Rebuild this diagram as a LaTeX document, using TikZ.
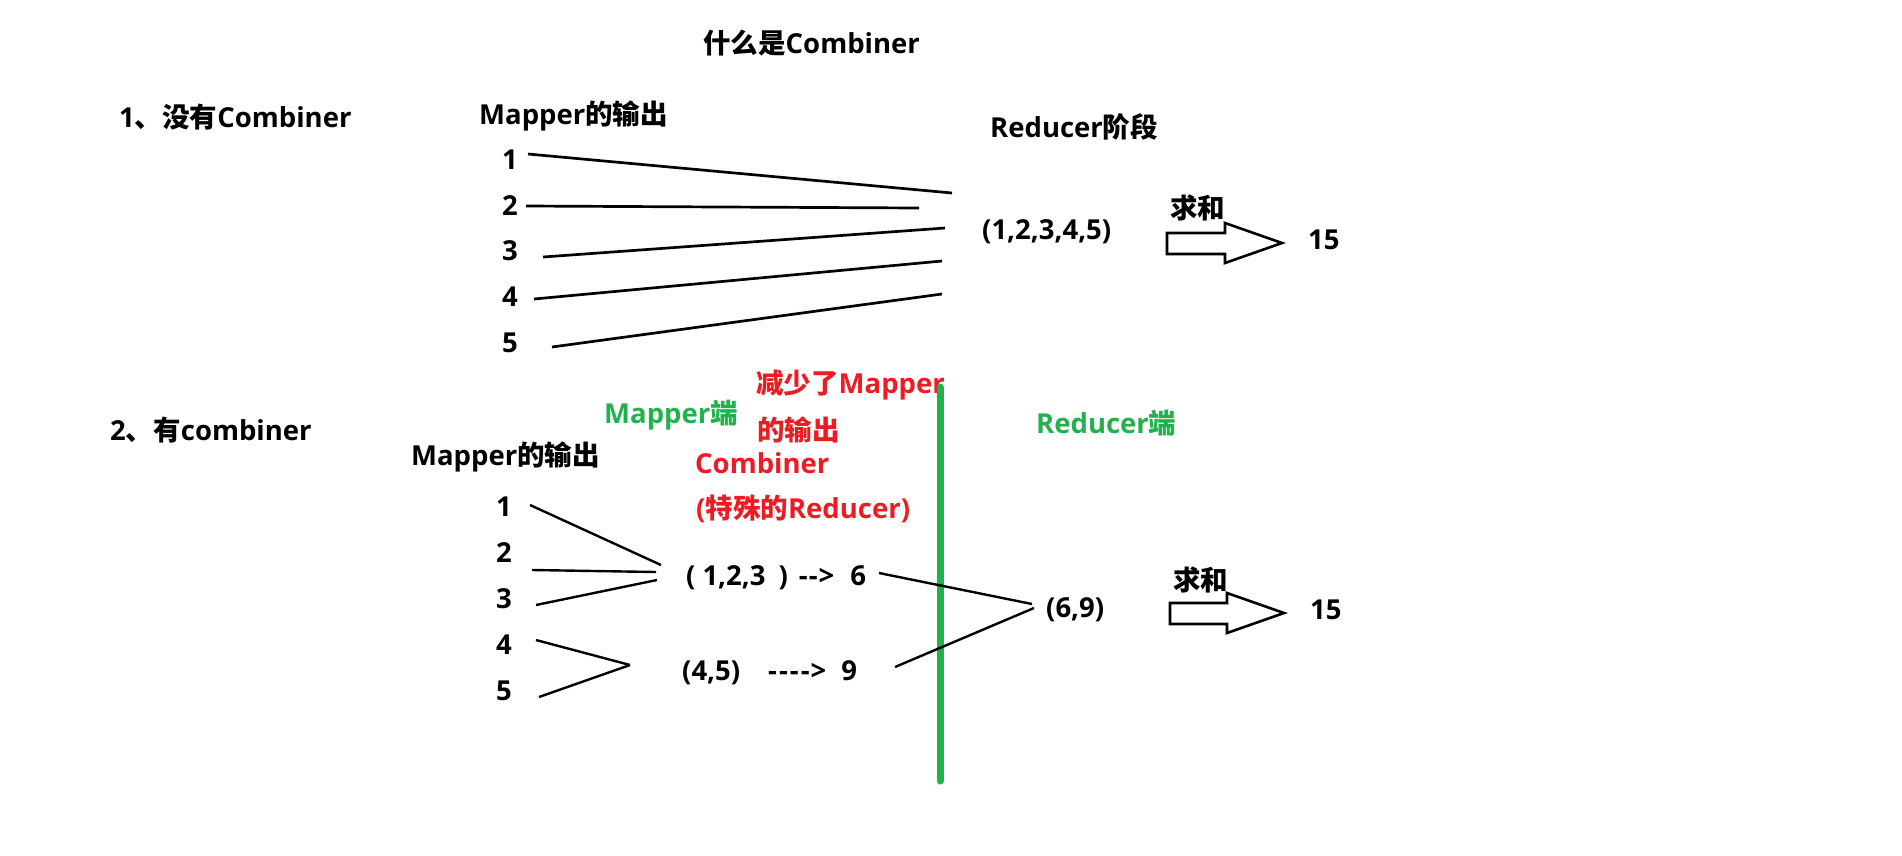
\documentclass[tikz,border=0pt]{standalone}
\usepackage{fontspec}
\setmainfont{Open Sans}
\newfontfamily\cjk{Noto Sans CJK SC}
\definecolor{pred}{RGB}{237,28,36}
\definecolor{pgreen}{RGB}{34,177,76}
\begin{document}
\begin{tikzpicture}[x=1pt,y=-1pt,
  txt/.style={anchor=west,inner sep=0pt,font=\bfseries\fontsize{27.5}{32}\selectfont},
  num/.style={anchor=center,inner sep=0pt,font=\bfseries\fontsize{27.5}{32}\selectfont},
  redtxt/.style={txt,text=pred},
  greentxt/.style={txt,text=pgreen},
  wire/.style={line width=2.7pt,black},
  wirethin/.style={line width=2.4pt,black},
  divider/.style={line width=7pt,pgreen,line cap=round},
  blockarrow/.style={line width=2.6pt,black,fill=white,line join=miter}]
\useasboundingbox[fill=white] (0,0) rectangle (1902,855);

% ---------- headings ----------
\node[txt] (title) at (703,43) {{\cjk 什么是}Combiner};
\node[txt] (sec1) at (119,117) {1{\cjk 、没有}Combiner};
\node[txt] (mapout1) at (479,116) {Mapper{\cjk 的输出}};
\node[txt] (redstage) at (990,127) {Reducer{\cjk 阶段}};

% ---------- part 1 ----------
\node[num] (a1) at (510,160) {1};
\node[num] (a2) at (510,206) {2};
\node[num] (a3) at (510,251) {3};
\node[num] (a4) at (510,297) {4};
\node[num] (a5) at (510,343) {5};
\node[txt] (all) at (982,232) {(1,2,3,4,5)};
\node[txt] (sum1) at (1170,208) {\cjk 求和};
\node[txt] (res1) at (1308,240) {15};

\coordinate (a1e) at (952,193);
\coordinate (a2e) at (919,208);
\coordinate (a3e) at (945,228);
\coordinate (a4e) at (942,261);
\coordinate (a5e) at (942,294);
\draw[wire] (528,154) coordinate (a1s) -- (a1e);
\draw[wire] (526,206) coordinate (a2s) -- (a2e);
\draw[wire] (543,257) coordinate (a3s) -- (a3e);
\draw[wire] (534,299) coordinate (a4s) -- (a4e);
\draw[wire] (552,347) coordinate (a5s) -- (a5e);

\draw[blockarrow] (1167,233) -- (1225,233) -- (1225,223) -- (1282,243)
  -- (1225,263) -- (1225,254) -- (1167,254) -- cycle;

% ---------- part 2 ----------
\node[txt] (sec2) at (110,430) {2{\cjk 、有}combiner};
\node[redtxt] (less) at (756,385) {{\cjk 减少了}Mapper};
\node[redtxt] (less2) at (757,430) {\cjk 的输出};
\node[greentxt] (mapside) at (604,415) {Mapper{\cjk 端}};
\node[greentxt] (redside) at (1036,423) {Reducer{\cjk 端}};
\node[txt] (mapout2) at (411,457) {Mapper{\cjk 的输出}};
\node[redtxt] (comb) at (695,463) {Combiner};
\node[redtxt] (special) at (696,509) {({\cjk 特殊的}Reducer)};

\node[num] (b1) at (504,507) {1};
\node[num] (b2) at (504,553) {2};
\node[num] (b3) at (504,599) {3};
\node[num] (b4) at (504,645) {4};
\node[num] (b5) at (504,691) {5};

\node[txt] (g1) at (686,578) {(\hspace{7pt}1,2,3\hspace{13pt})\hspace{11pt}-\hspace{1pt}-\hspace{1pt}>\hspace{16pt}6};
\node[txt] (g2) at (682,673) {(4,5)\hspace{28pt}-\hspace{2pt}-\hspace{2pt}-\hspace{2pt}-\hspace{1pt}>\hspace{15pt}9};
\node[txt] (pair) at (1046,610) {(6,9)};
\node[txt] (sum2) at (1173,580) {\cjk 求和};
\node[txt] (res2) at (1310,610) {15};

\draw[divider] (940,387) coordinate (dtop) -- (940,781) coordinate (dbot);

\coordinate (g1in) at (661,565);
\draw[wirethin] (530,505) coordinate (b1s) -- (g1in);
\draw[wirethin] (532,570) coordinate (b2s) -- (656,572) coordinate (g1in2);
\draw[wirethin] (536,605) coordinate (b3s) -- (657,580) coordinate (g1in3);
\coordinate (g2in) at (630,665);
\draw[wirethin] (536,640) coordinate (b4s) -- (g2in);
\draw[wirethin] (539,697) coordinate (b5s) -- (g2in);
\draw[wirethin] (879,573) coordinate (g1out) -- (1032,604) coordinate (pin1);
\draw[wirethin] (895,667) coordinate (g2out) -- (1034,608) coordinate (pin2);

\draw[blockarrow] (1170,603) -- (1227,603) -- (1227,593) -- (1284,613)
  -- (1227,633) -- (1227,624) -- (1170,624) -- cycle;
\end{tikzpicture}
\end{document}
